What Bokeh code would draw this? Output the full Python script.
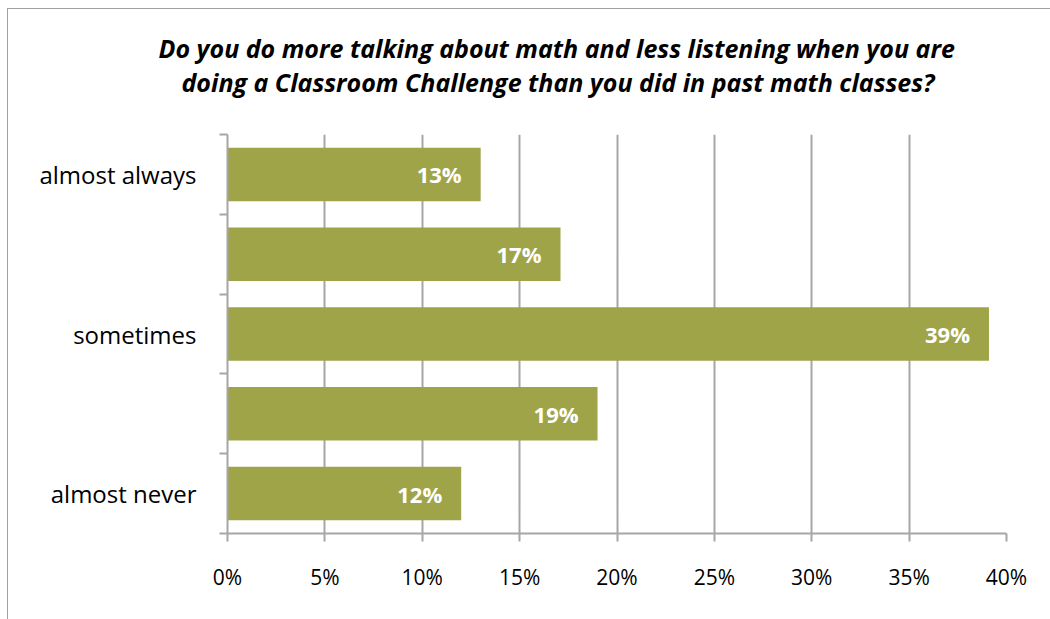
from bokeh.plotting import figure
from bokeh.models import ColumnDataSource, FixedTicker, NumeralTickFormatter, LabelSet, Title, Range1d
from bokeh.core.properties import value
from bokeh.embed import file_html
from bokeh.resources import INLINE

# ---- data ----
categories = ["almost always", "", "sometimes", "", "almost never"]
values = [0.13, 0.171, 0.391, 0.19, 0.12]
value_labels = ["13%", "17%", "39%", "19%", "12%"]
x_ticks = [0.0, 0.05, 0.10, 0.15, 0.20, 0.25, 0.30, 0.35, 0.40]
title_lines = ["Do you do more talking about math and less listening when you are",
               "doing a Classroom Challenge than you did in past math classes?"]

n = len(categories)
ypos = [n - i - 0.5 for i in range(n)]

src = ColumnDataSource(dict(y=ypos, v=values, lab=value_labels))

BAR = "#a0a448"
GRID = "#a6a6a6"
FONT = "Open Sans"

p = figure(width=1050, height=619, output_backend="svg", toolbar_location=None,
           x_range=Range1d(0, 0.40), y_range=Range1d(0, n),
           min_border_left=227, min_border_right=44, min_border_top=134, min_border_bottom=86)
p.outline_line_color = None
p.background_fill_color = "white"
p.border_fill_color = None
p.styles = {"background": "linear-gradient(#a0a0a0, #a0a0a0) 7px 8px / 1px 100% no-repeat, "
                          "linear-gradient(#a0a0a0, #a0a0a0) 7px 8px / 100% 1px no-repeat, white"}

p.hbar(y="y", right="v", left=0, height=0.67, source=src, color=BAR, line_color=None)

labels = LabelSet(x="v", y="y", text="lab", source=src, x_offset=-19,
                  text_align="right", text_baseline="middle",
                  text_color="white", text_font=value(FONT), text_font_style="bold",
                  text_font_size="22px")
p.add_layout(labels)

# x axis
p.xaxis.ticker = FixedTicker(ticks=x_ticks)
p.xaxis.formatter = NumeralTickFormatter(format="0%")
p.xaxis.axis_line_color = GRID
p.xaxis.axis_line_width = 2
p.xaxis.major_tick_line_color = GRID
p.xaxis.major_tick_line_width = 2
p.xaxis.major_tick_out = 8
p.xaxis.major_tick_in = 0
p.xaxis.minor_tick_line_color = None
p.xaxis.major_label_text_font = FONT
p.xaxis.major_label_text_font_size = "21px"
p.xaxis.major_label_text_color = "black"
p.xaxis.major_label_standoff = 21

# y axis
p.yaxis.ticker = FixedTicker(ticks=ypos, minor_ticks=list(range(n + 1)))
p.yaxis.major_label_overrides = {y: c for y, c in zip(ypos, categories)}
p.yaxis.axis_line_color = GRID
p.yaxis.axis_line_width = 2
p.yaxis.major_tick_line_color = None
p.yaxis.major_tick_out = 0
p.yaxis.major_tick_in = 0
p.yaxis.minor_tick_line_color = GRID
p.yaxis.minor_tick_line_width = 2
p.yaxis.minor_tick_out = 8
p.yaxis.minor_tick_in = 0
p.yaxis.major_label_text_font = FONT
p.yaxis.major_label_text_font_size = "24px"
p.yaxis.major_label_text_color = "black"
p.yaxis.major_label_standoff = 23

p.xgrid.ticker = FixedTicker(ticks=x_ticks)
p.xgrid.grid_line_color = GRID
p.xgrid.grid_line_width = 2
p.ygrid.grid_line_color = None

# title: second line added first (closest to the frame)
for t, off, so in [(title_lines[1], -46, 72), (title_lines[0], -69, -77)]:
    p.add_layout(Title(text=t, align="left", offset=off, standoff=so,
                       text_font=FONT, text_font_style="bold italic",
                       text_font_size="25px", text_color="black"), "above")

open("out.html", "w").write(file_html(p, INLINE))
